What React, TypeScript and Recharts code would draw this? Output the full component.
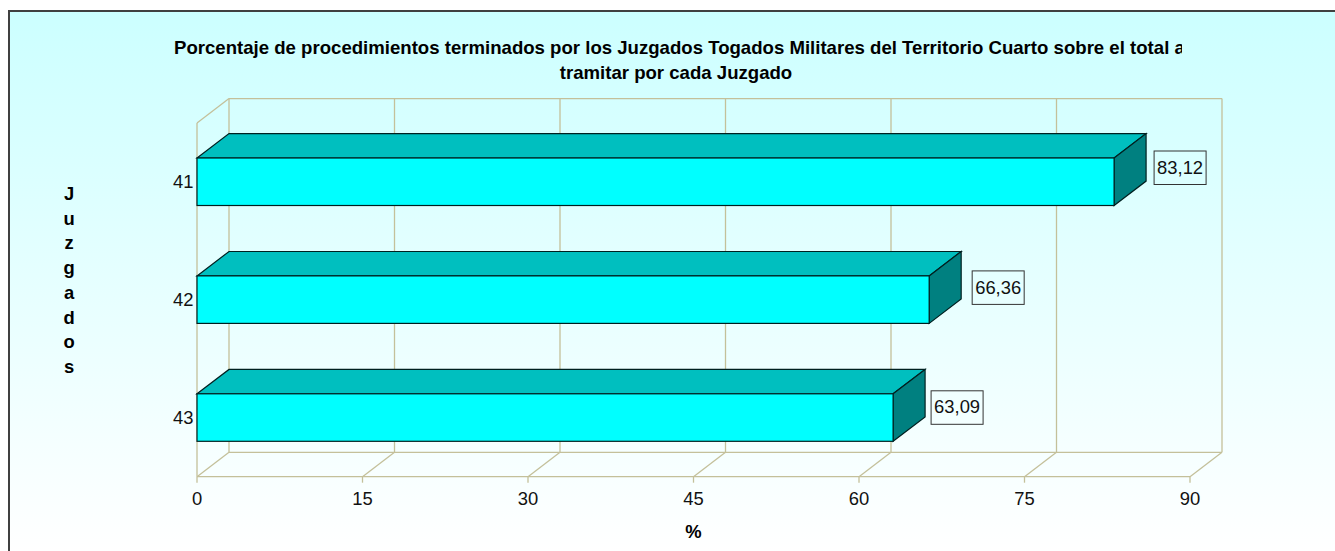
import { Bar, BarChart, CartesianGrid, LabelList, XAxis, YAxis } from "recharts";

const juzgados = ["41", "42", "43"];
const porcentajes = [83.12, 66.36, 63.09];
const xTicks = [0, 15, 30, 45, 60, 75, 90];
const titleLines = [
  "Porcentaje de procedimientos terminados por los Juzgados Togados Militares del Territorio Cuarto sobre el total a",
  "tramitar por cada Juzgado",
];
const yTitle = "Juzgados";

const data = juzgados.map((juzgado, i) => ({ juzgado, valor: porcentajes[i] }));

const FONT = "'Liberation Sans', Arial, sans-serif";
const GRID = "#c4c09a";
const DX = 32;
const DY = 24.4;
// the original boxes were placed by hand, so they do not sit at one fixed offset
const labelShift = [
  { x: 40, y: -31 },
  { x: 43, y: -29 },
  { x: 38, y: -27 },
];

function Box3D(props: any) {
  const { x, y, width, height } = props;
  const r = x + width;
  return (
    <g stroke="#002020" strokeWidth={1.2}>
      <polygon
        points={`${x},${y} ${x + DX},${y - DY} ${r + DX},${y - DY} ${r},${y}`}
        fill="#00bfbf"
      />
      <polygon
        points={`${r},${y} ${r + DX},${y - DY} ${r + DX},${y + height - DY} ${r},${y + height}`}
        fill="#008080"
      />
      <rect x={x} y={y} width={width} height={height} fill="#00ffff" />
    </g>
  );
}

function ValueBox(props: any) {
  const { x, y, width, value, index } = props;
  const shift = labelShift[index];
  const left = x + width + shift.x;
  const top = y + shift.y + 24;
  return (
    <g>
      <rect x={left} y={top} width={52} height={33.5} fill="none" stroke="#333" strokeWidth={1} />
      <text
        x={left + 26}
        y={top + 22.6}
        textAnchor="middle"
        fontFamily={FONT}
        fontSize={18.4}
        fill="#111"
      >
        {String(value).replace(".", ",")}
      </text>
    </g>
  );
}

function VerticalWall(props: any) {
  const { x1, y1, y2, index } = props;
  return (
    <g stroke={GRID} strokeWidth={1.3} fill="none">
      <line x1={x1 + DX} y1={y1 - DY} x2={x1 + DX} y2={y2 - DY} />
      <line x1={x1} y1={y2} x2={x1 + DX} y2={y2 - DY} />
      {index === 0 && (
        <>
          <line x1={x1} y1={y1} x2={x1} y2={y2} />
          <line x1={x1} y1={y1} x2={x1 + DX} y2={y1 - DY} />
        </>
      )}
    </g>
  );
}

function HorizontalWall(props: any) {
  const { x1, x2, y1 } = props;
  return <line x1={x1 + DX} y1={y1 - DY} x2={x2 + DX} y2={y1 - DY} stroke={GRID} strokeWidth={1.3} />;
}

function YTitle() {
  return (
    <text fontFamily={FONT} fontWeight="bold" fontSize={18.4} fill="#000" textAnchor="middle">
      {yTitle.split("").map((letter, i) => (
        <tspan key={i} x={69} y={200 + i * 24.7}>
          {letter}
        </tspan>
      ))}
    </text>
  );
}

export default function App() {
  return (
    <div
      style={{
        position: "absolute",
        left: 0,
        top: 0,
        width: 1335,
        height: 551,
        overflow: "hidden",
        background: "#fff",
      }}
    >
      <div
        style={{
          position: "absolute",
          left: 8,
          top: 10,
          width: 1327,
          height: 541,
          boxSizing: "border-box",
          borderLeft: "2px solid #404040",
          borderTop: "2px solid #404040",
          background: "linear-gradient(#ccffff, #ffffff)",
        }}
      />
      <div
        style={{
          position: "absolute",
          left: 174,
          top: 36,
          width: 1008,
          overflow: "hidden",
          whiteSpace: "nowrap",
          fontFamily: FONT,
          fontWeight: "bold",
          fontSize: 18.6,
          lineHeight: "24px",
          color: "#000",
        }}
      >
        {titleLines[0]}
      </div>
      <div
        style={{
          position: "absolute",
          left: 174,
          top: 61,
          width: 1004,
          textAlign: "center",
          fontFamily: FONT,
          fontWeight: "bold",
          fontSize: 18.6,
          lineHeight: "24px",
          color: "#000",
        }}
      >
        {titleLines[1]}
      </div>
      <div style={{ position: "absolute", left: 0, top: 0 }}>
        <BarChart
          width={1335}
          height={551}
          data={data}
          layout="vertical"
          barSize={47.5}
          margin={{ top: 123, right: 145, bottom: 0, left: 0 }}
        >
          <CartesianGrid
            stroke={GRID}
            vertical={VerticalWall}
            horizontal={HorizontalWall}
            verticalValues={xTicks}
            horizontalPoints={[123, 476.7]}
          />
          <XAxis
            type="number"
            dataKey="valor"
            domain={[0, 90]}
            ticks={xTicks}
            interval={0}
            height={74.3}
            tickSize={6}
            tickMargin={9}
            stroke={GRID}
            strokeWidth={1.3}
            tick={{ fill: "#111", fontFamily: FONT, fontSize: 18.4 }}
            label={{
              value: "%",
              position: "insideBottom",
              offset: 13,
              fill: "#000",
              fontFamily: FONT,
              fontWeight: "bold",
              fontSize: 18.4,
            }}
          />
          <YAxis
            type="category"
            dataKey="juzgado"
            width={197}
            tickSize={0}
            tickMargin={3.5}
            axisLine={false}
            tick={{ fill: "#111", fontFamily: FONT, fontSize: 18.4 }}
            label={{ content: <YTitle /> }}
          />
          <Bar dataKey="valor" shape={<Box3D />} isAnimationActive={false}>
            <LabelList dataKey="valor" content={<ValueBox />} />
          </Bar>
        </BarChart>
      </div>
    </div>
  );
}
